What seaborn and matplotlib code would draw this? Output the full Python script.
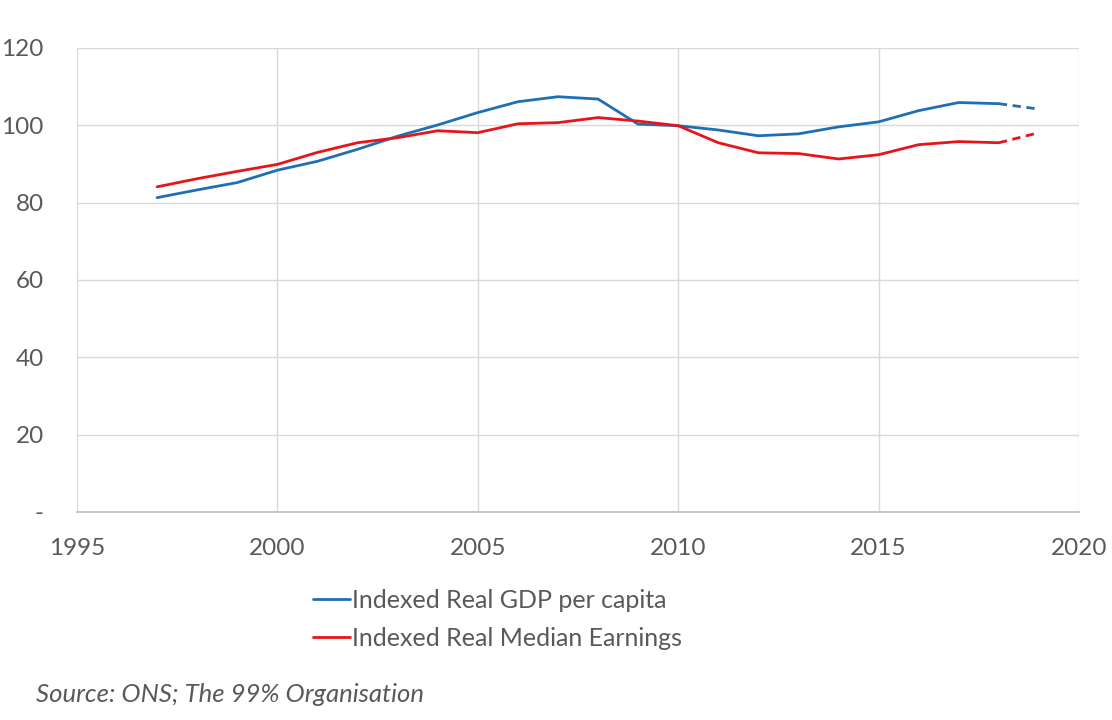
import matplotlib
matplotlib.use("Agg")
import matplotlib.pyplot as plt
import seaborn as sns
import pandas as pd
from matplotlib.lines import Line2D

years = list(range(1997, 2020))
gdp = [81.3, 83.3, 85.2, 88.4, 90.7, 93.8, 97.2, 100.1, 103.3, 106.1, 107.4, 106.8,
       100.3, 99.9, 98.8, 97.3, 97.8, 99.6, 100.9, 103.8, 105.9, 105.6, 104.2]
earn = [84.1, 86.2, 88.1, 89.9, 93.0, 95.5, 96.8, 98.6, 98.1, 100.4, 100.7, 102.0,
        101.1, 99.9, 95.5, 92.9, 92.7, 91.3, 92.4, 95.0, 95.8, 95.5, 98.1]
labels = ["Indexed Real GDP per capita", "Indexed Real Median Earnings"]
xticks = [1995, 2000, 2005, 2010, 2015, 2020]
yticks = [0, 20, 40, 60, 80, 100, 120]
ytick_labels = ["-", "20", "40", "60", "80", "100", "120"]
source = "Source: ONS; The 99% Organisation"

sns.set_theme(style="white")
plt.rcParams['font.family'] = ['Lato', 'DejaVu Sans']

blue = "#1f6fb5"
red = "#e8141b"
txt = "#595959"
grid = "#d9d9d9"

df = pd.DataFrame({"year": years, "gdp": gdp, "earn": earn})
solid = df[df.year <= 2018]
dash = df[df.year >= 2018]

fig = plt.figure(figsize=(11.12, 7.2), dpi=100)
ax = fig.add_axes([77/1112, 1 - 512/720, (1079-77)/1112, (512-48)/720])

sns.lineplot(data=solid, x="year", y="gdp", ax=ax, color=blue, lw=2)
sns.lineplot(data=solid, x="year", y="earn", ax=ax, color=red, lw=2)
sns.lineplot(data=dash, x="year", y="gdp", ax=ax, color=blue, lw=2, linestyle=(0, (3, 2)))
sns.lineplot(data=dash, x="year", y="earn", ax=ax, color=red, lw=2, linestyle=(0, (3, 2)))

ax.set_xlim(1995, 2020)
ax.set_ylim(0, 120)
ax.set_xticks(xticks)
ax.set_yticks(yticks)
ax.set_yticklabels(ytick_labels)
ax.grid(True, color=grid, lw=1)
ax.set_axisbelow(True)
for s in ["top", "right", "left"]:
    ax.spines[s].set_visible(False)
ax.spines["bottom"].set_color("#bfbfbf")
ax.tick_params(axis="both", colors=txt, labelsize=17.5, length=0)
ax.tick_params(axis="x", pad=19)
ax.tick_params(axis="y", pad=24)
ax.set_xlabel("")
ax.set_ylabel("")

handles = [Line2D([], [], color=blue, lw=2), Line2D([], [], color=red, lw=2)]
leg = fig.legend(handles, labels, loc="upper left", bbox_to_anchor=(290/1112, 1 - 566/720),
                 frameon=False, fontsize=18, labelcolor=txt, handlelength=1.5,
                 handletextpad=0.1, labelspacing=0.6)

fig.text(36/1112, 1 - 695/720, source, fontsize=18.5, style="italic", color=txt, va="center")

fig.savefig("out.png", dpi=100)
